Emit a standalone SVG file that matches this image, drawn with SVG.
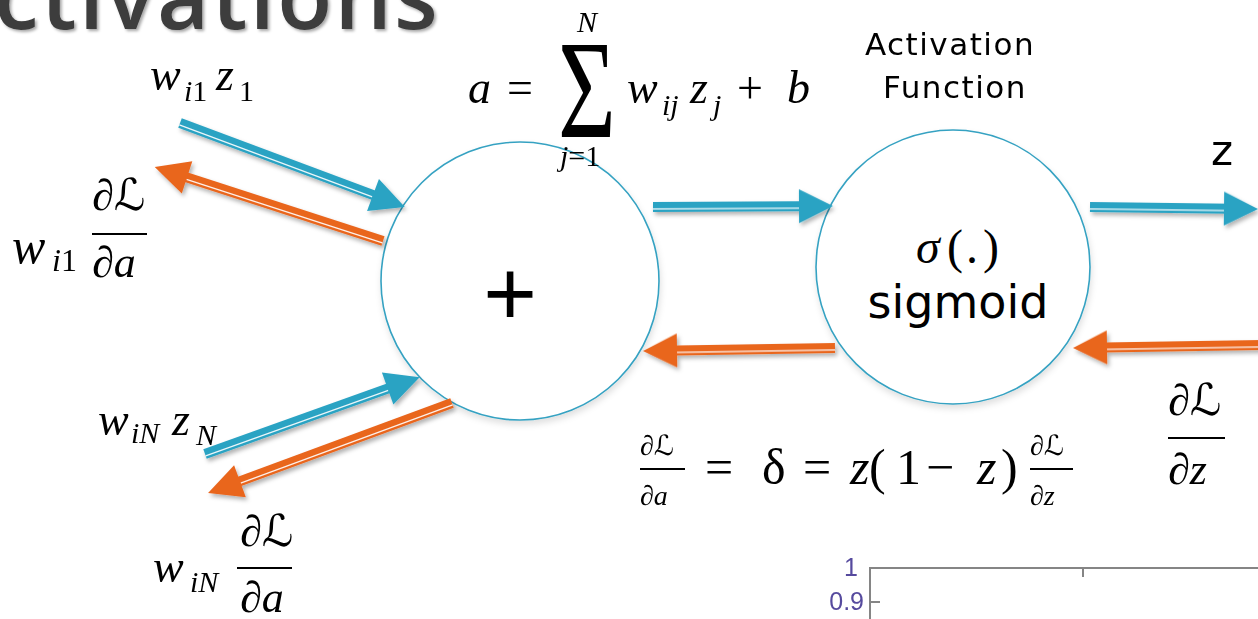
<svg xmlns="http://www.w3.org/2000/svg" width="1258" height="619" viewBox="0 0 1258 619">
<defs>
<filter id="sh" x="-20%" y="-20%" width="140%" height="160%"><feDropShadow dx="2" dy="3" stdDeviation="2" flood-color="#000" flood-opacity="0.3"/></filter>
<filter id="csh" x="-10%" y="-10%" width="120%" height="125%"><feDropShadow dx="1" dy="4" stdDeviation="3" flood-color="#000" flood-opacity="0.12"/></filter>
<filter id="tsh" x="-5%" y="-20%" width="110%" height="150%"><feDropShadow dx="2" dy="2" stdDeviation="1.5" flood-color="#000" flood-opacity="0.35"/></filter>
</defs>
<style>
.b{fill:#2ba3c3}
.o{fill:#e9661f}
.wl{fill:#fff;opacity:0.9}
.node{fill:#fff;stroke:#36a2c2;stroke-width:1.6}
.m{font-family:"Liberation Serif","DejaVu Serif","DejaVu Sans",serif;font-style:italic;fill:#000}
.u{font-style:normal}
.s{font-family:"DejaVu Sans","Liberation Sans",sans-serif;fill:#000}
.fl{stroke:#000;stroke-width:2}
.ax{stroke:#858585;stroke-width:2;fill:none}
.ct{font-family:"Liberation Sans",sans-serif;font-size:25px;fill:#564a9e}
</style>
<rect width="1258" height="619" fill="#fff"/>
<text x="-6" y="29" font-family="Open Sans, Liberation Sans, sans-serif" font-weight="600" font-size="90" letter-spacing="2.4" fill="#3c3c3c" filter="url(#tsh)">ctivations</text>

<g id="node-sum">
<circle class="node" cx="520" cy="281" r="139" filter="url(#csh)"/>
<text x="510" y="325" font-family="Liberation Sans, sans-serif" font-size="92" text-anchor="middle">+</text>
</g>
<g id="node-sigmoid">
<circle class="node" cx="953" cy="267" r="137" filter="url(#csh)"/>
<text class="m" y="263" font-size="48"><tspan x="916">σ</tspan><tspan class="u" x="947">(</tspan><tspan class="u" x="966">.</tspan><tspan class="u" x="983">)</tspan></text>
<text class="s" x="958" y="318" font-size="46" text-anchor="middle">sigmoid</text>
</g>

<g id="connectors" filter="url(#sh)">
<g transform="translate(180,123) rotate(20.47)"><rect class="b" x="0" y="-5" width="210" height="10"/><rect class="wl" x="0" y="1.3" width="206" height="1.3"/><polygon class="b" points="206,-17 240,0 206,17"/></g>
<g transform="translate(383,241) rotate(-162.02)"><rect class="o" x="0" y="-5" width="210" height="10"/><rect class="wl" x="0" y="-2.6" width="206" height="1.3"/><polygon class="o" points="206,-17 240,0 206,17"/></g>
<g transform="translate(205,454) rotate(-19.7)"><rect class="b" x="0" y="-5" width="198" height="10"/><rect class="wl" x="0" y="1.3" width="194" height="1.3"/><polygon class="b" points="194,-17 228,0 194,17"/></g>
<g transform="translate(452,403) rotate(159.75)"><rect class="o" x="0" y="-5" width="230" height="10"/><rect class="wl" x="0" y="-2.6" width="226" height="1.3"/><polygon class="o" points="226,-17 260,0 226,17"/></g>
<g transform="translate(653,207) rotate(-0.3)"><rect class="b" x="0" y="-5" width="150" height="10"/><rect class="wl" x="0" y="1.3" width="146" height="1.3"/><polygon class="b" points="146,-17 180,0 146,17"/></g>
<g transform="translate(835,348) rotate(179.1)"><rect class="o" x="0" y="-5" width="162" height="10"/><rect class="wl" x="0" y="-2.6" width="158" height="1.3"/><polygon class="o" points="158,-17 192,0 158,17"/></g>
<g transform="translate(1090,207) rotate(0.7)"><rect class="b" x="0" y="-5" width="138" height="10"/><rect class="wl" x="0" y="1.3" width="134" height="1.3"/><polygon class="b" points="134,-17 168,0 134,17"/></g>
<g transform="translate(1262,345) rotate(179.1)"><rect class="o" x="0" y="-5" width="159" height="10"/><rect class="wl" x="0" y="-2.6" width="155" height="1.3"/><polygon class="o" points="155,-17 189,0 155,17"/></g>
</g>

<g id="labels">
<text class="m" font-size="46"><tspan x="150" y="90">w</tspan><tspan x="184" y="101" font-size="30">i</tspan><tspan class="u" font-size="30">1</tspan><tspan x="216" y="90">z</tspan><tspan class="u" x="239" y="101" font-size="30">1</tspan></text>

<text class="m" font-size="46"><tspan x="468" y="103">a</tspan><tspan class="u" x="507">=</tspan></text>
<text class="m u" transform="translate(558,137) scale(0.71,1)" font-size="140">Σ</text>
<text class="m" x="577" y="32" font-size="30">N</text>
<text class="m" y="166" font-size="30"><tspan x="560">j</tspan><tspan class="u">=1</tspan></text>
<text class="m" font-size="46"><tspan x="627" y="103">w</tspan><tspan x="662" y="115" font-size="30">ij</tspan><tspan x="690" y="103">z</tspan><tspan x="713" y="115" font-size="30">j</tspan><tspan class="u" x="737" y="103">+</tspan><tspan x="787">b</tspan></text>

<text class="s" x="950" y="55" font-size="31" letter-spacing="1.5" text-anchor="middle">Activation</text>
<text class="s" x="955" y="98" font-size="31" letter-spacing="1.5" text-anchor="middle">Function</text>
<text class="s" x="1211" y="165" font-size="42">z</text>

<text class="m" font-size="50"><tspan x="12" y="263">w</tspan><tspan x="52" y="271" font-size="32">i</tspan><tspan class="u" font-size="32">1</tspan></text>
<text class="m" x="92" y="210" font-size="44">∂ℒ</text>
<line class="fl" x1="92" y1="234" x2="147" y2="234"/>
<text class="m" x="92" y="277" font-size="44">∂a</text>

<text class="m" font-size="46"><tspan x="98" y="435">w</tspan><tspan x="131" y="443" font-size="30">iN</tspan><tspan x="172" y="435">z</tspan><tspan x="196" y="445" font-size="30">N</tspan></text>

<text class="m" font-size="46"><tspan x="153" y="582">w</tspan><tspan x="190" y="592" font-size="30">iN</tspan></text>
<text class="m" x="240" y="546" font-size="44">∂ℒ</text>
<line class="fl" x1="237" y1="568" x2="292" y2="568"/>
<text class="m" x="240" y="612" font-size="44">∂a</text>

<text class="m" x="640" y="455" font-size="28">∂ℒ</text>
<line class="fl" x1="640" y1="469" x2="685" y2="469" stroke-width="1.8"/>
<text class="m" x="640" y="505" font-size="28">∂a</text>
<text class="m" y="484" font-size="50"><tspan class="u" x="705">=</tspan><tspan class="u" x="762">δ</tspan><tspan class="u" x="803">=</tspan><tspan x="850">z</tspan><tspan class="u" x="869">(</tspan><tspan class="u" x="896">1</tspan><tspan class="u" x="926">−</tspan><tspan x="977">z</tspan><tspan class="u" x="1001">)</tspan></text>
<text class="m" x="1030" y="455" font-size="28">∂ℒ</text>
<line class="fl" x1="1030" y1="469" x2="1073" y2="469" stroke-width="1.8"/>
<text class="m" x="1030" y="505" font-size="28">∂z</text>

<text class="m" x="1168" y="415" font-size="44">∂ℒ</text>
<line class="fl" x1="1168" y1="438" x2="1225" y2="438"/>
<text class="m" x="1168" y="484" font-size="44">∂z</text>
</g>

<g id="chart">
<path class="ax" d="M870,619 V568 H1258 M1083,568 V577 M870,602 H880"/>
<text class="ct" x="858" y="576" text-anchor="end">1</text>
<text class="ct" x="864" y="610" text-anchor="end">0.9</text>
</g>
</svg>
